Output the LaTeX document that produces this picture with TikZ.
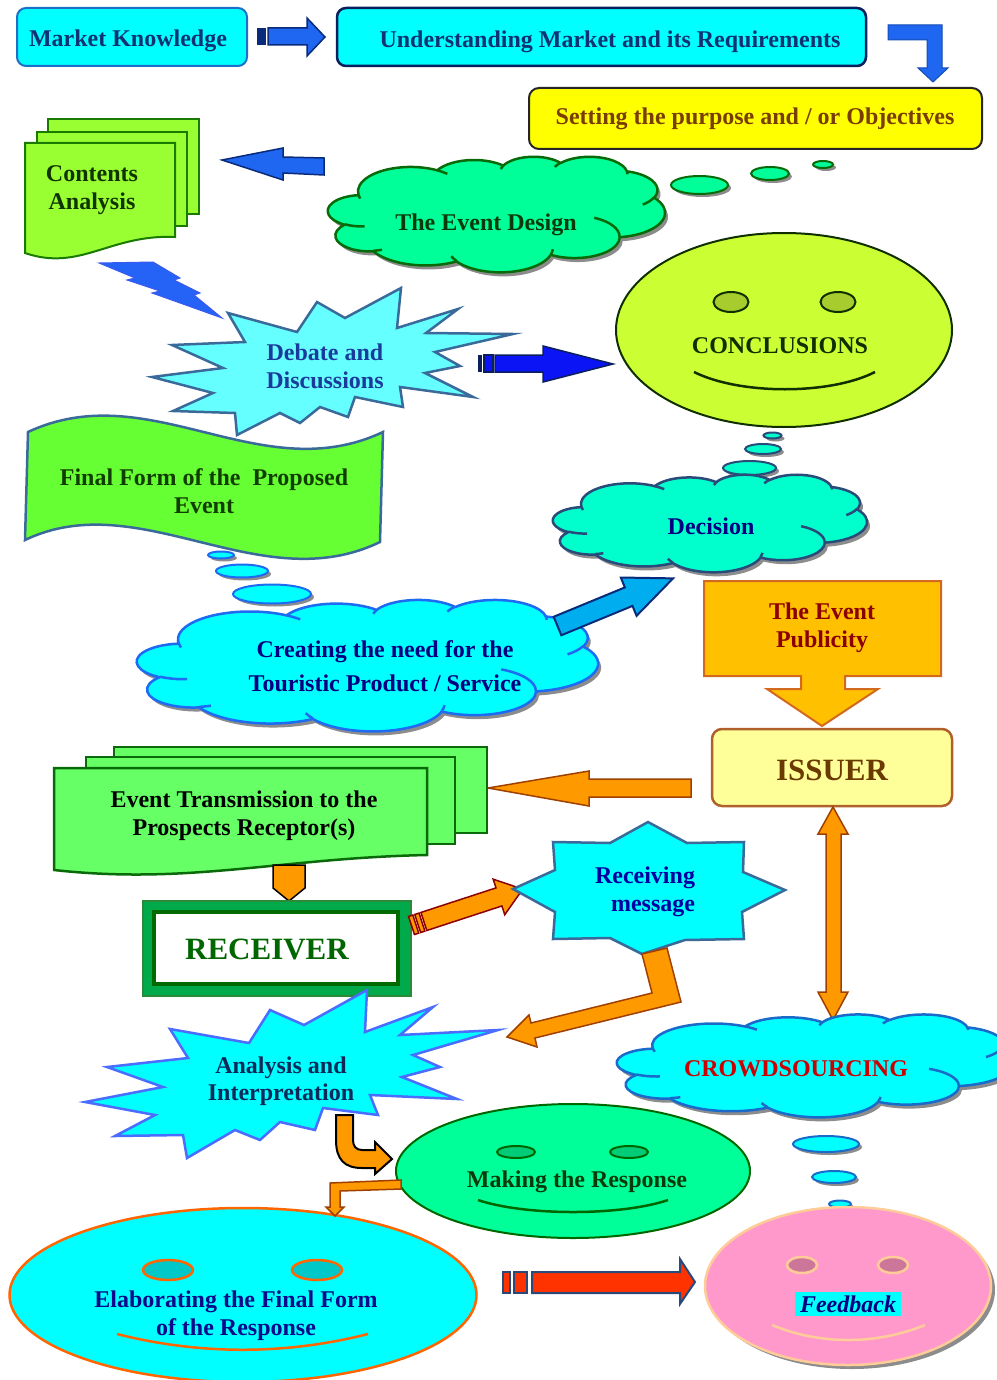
\documentclass[tikz,border=0pt]{standalone}
\usepackage{fontspec}
\setmainfont{Liberation Serif}
\usetikzlibrary{shapes.geometric,shadows}

\definecolor{aqua}{HTML}{00FFFF}
\definecolor{mkline}{HTML}{1E6FC8}
\definecolor{navyline}{HTML}{0A1F5C}
\definecolor{navytext}{HTML}{0F3272}
\definecolor{sunny}{HTML}{FFFF00}
\definecolor{browntext}{HTML}{7A3D00}
\definecolor{leafgreen}{HTML}{99FF33}
\definecolor{leafline}{HTML}{1A7A00}
\definecolor{leaftext}{HTML}{113300}
\definecolor{arrowblue}{HTML}{1F66F0}
\definecolor{arrowline}{HTML}{0A2A7A}
\definecolor{paleaqua}{HTML}{66FFFF}
\definecolor{steel}{HTML}{3A6A9A}
\definecolor{debtext}{HTML}{1A3A9C}
\definecolor{deepblue}{HTML}{0A14F5}
\definecolor{spring}{HTML}{00FF99}
\definecolor{forest}{HTML}{0A6A0A}
\definecolor{forestdark}{HTML}{0A3A0A}
\definecolor{limefill}{HTML}{CCFF33}
\definecolor{limeline}{HTML}{0F2F00}
\definecolor{limeeye}{HTML}{A6CC2E}
\definecolor{aquamarine}{HTML}{00FFCC}
\definecolor{slateline}{HTML}{2A4A7A}
\definecolor{navyblue}{HTML}{000080}
\definecolor{grass}{HTML}{66FF33}
\definecolor{grasstext}{HTML}{123D00}
\definecolor{skyline}{HTML}{1E6AF0}
\definecolor{skyblue}{HTML}{00AEEF}
\definecolor{amber}{HTML}{FFC000}
\definecolor{amberline}{HTML}{D2691E}
\definecolor{darkred}{HTML}{8B0000}
\definecolor{cream}{HTML}{FFFF99}
\definecolor{creamline}{HTML}{B0602A}
\definecolor{umber}{HTML}{6B3A00}
\definecolor{orangefill}{HTML}{FF9900}
\definecolor{orangeline}{HTML}{A04000}
\definecolor{mint}{HTML}{66FF66}
\definecolor{framefill}{HTML}{00AA4A}
\definecolor{frameline}{HTML}{2A8A3A}
\definecolor{framedark}{HTML}{006A00}
\definecolor{rectext}{HTML}{006600}
\definecolor{msgtext}{HTML}{0000A0}
\definecolor{burstline}{HTML}{4A6CFF}
\definecolor{anatext}{HTML}{0A2A5A}
\definecolor{crowdline}{HTML}{1A6ACA}
\definecolor{crowdtext}{HTML}{CC0000}
\definecolor{eyegreen}{HTML}{00CC77}
\definecolor{flame}{HTML}{FF6600}
\definecolor{tealeye}{HTML}{00C8C8}
\definecolor{elabtext}{HTML}{0A0A8A}
\definecolor{pinkfill}{HTML}{FF99CC}
\definecolor{peach}{HTML}{FFCC99}
\definecolor{mauve}{HTML}{CC7799}
\definecolor{scarlet}{HTML}{FF3300}
\definecolor{shadowgray}{HTML}{8C8C8C}
\definecolor{boltblue}{HTML}{2463F5}
\definecolor{boltline}{HTML}{3A5AF0}

% small thought bubble with its shadow: fill, line, x, y, x radius, y radius
\newcommand\thoughtbubble[6]{%
  \fill[shadowgray] ({#3+3},{#4+3}) ellipse [x radius=#5,y radius=#6];
  \draw[fill=#1,draw=#2,line width=2pt] (#3,#4) ellipse [x radius=#5,y radius=#6];}

% elliptic arc from the current point: x radius, y radius, start and sweep
% given as angles of the ray from the centre (converted to ellipse parameters)
\newcommand\ooarc[4]{%
  \pgfmathsetmacro\ooA{atan2((#1)*sin(#3),(#2)*cos(#3))}%
  \pgfmathsetmacro\ooTs{\ooA+360*round(((#3)-(\ooA))/360)}%
  \pgfmathsetmacro\ooB{atan2((#1)*sin((#3)+(#4)),(#2)*cos((#3)+(#4)))}%
  \pgfmathsetmacro\ooTe{\ooB+360*round(((#3)+(#4)-(\ooB))/360)}%
  \pgfpatharc{\ooTs}{\ooTe}{#1pt and #2pt}}

% cloud outline on a 4320 x 4320 frame, y pointing down
\newcommand\cloudoutline{%
  \pgfpathmoveto{\pgfpoint{390pt}{1437pt}}%
  \ooarc{675.3}{919}{-190.4875}{123.7805}%
  \ooarc{533.3}{726.7}{-144.1024}{89.9452}%
  \ooarc{436.5}{594.5}{-145.8079}{99.7230}%
  \ooarc{485.7}{659.5}{-130.9861}{117.2417}%
  \ooarc{533.3}{727.3}{-78.7089}{109.0269}%
  \ooarc{677.5}{922}{-46.2673}{130.2690}%
  \ooarc{578.5}{786.7}{0.6250}{114.0333}%
  \ooarc{675.2}{921.5}{22.4516}{115.1726}%
  \ooarc{772}{1054.3}{66.2426}{75.7110}%
  \ooarc{436}{591.8}{-274.9421}{146.7356}%
  \ooarc{434.5}{594.5}{-246.8285}{152.5189}%
  \pgfpathclose}

% the inner curls of the cloud
\newcommand\cloudcurls{%
  \pgfpathmoveto{\pgfpoint{469.3pt}{2617.7pt}}\ooarc{434.5}{594.5}{86.7420}{26.4295}%
  \pgfpathmoveto{\pgfpoint{692.8pt}{3489.9pt}}\ooarc{436}{591.8}{73.6105}{11.4475}%
  \pgfpathmoveto{\pgfpoint{1647.8pt}{3909pt}}\ooarc{675.2}{921.5}{137.6242}{14.0811}%
  \pgfpathmoveto{\pgfpoint{2882.7pt}{3475.1pt}}\ooarc{675.2}{921.5}{6.4533}{15.9984}%
  \pgfpathmoveto{\pgfpoint{3412.9pt}{2295.4pt}}\ooarc{578.5}{786.7}{-70.2924}{70.9174}%
  \pgfpathmoveto{\pgfpoint{4179.8pt}{1535.4pt}}\ooarc{533.3}{727.3}{30.3180}{27.7515}%
  \pgfpathmoveto{\pgfpoint{3832.4pt}{542.6pt}}\ooarc{485.7}{659.5}{-13.7443}{14.8589}%
  \pgfpathmoveto{\pgfpoint{2907.8pt}{395.2pt}}\ooarc{485.7}{659.5}{-149.1815}{18.1954}%
  \pgfpathmoveto{\pgfpoint{2214.1pt}{472pt}}\ooarc{436.5}{594.5}{-163.4943}{17.6864}%
  \pgfpathmoveto{\pgfpoint{1400pt}{519.2pt}}\ooarc{675.3}{919}{-66.7070}{12.3194}%
  \pgfpathmoveto{\pgfpoint{412.7pt}{1578.9pt}}\ooarc{675.3}{919}{157.6544}{11.8582}}

% cloud with shadow: left, top, width, height of its frame, fill, line
\newcommand\cloudshape[6]{%
  \begin{scope}[shift={({#1+3},{#2+4})},x=1pt,y=1pt,xscale={(#3)/4320},yscale={-(#4)/4320}]
    \pgfsetfillcolor{shadowgray}\cloudoutline\pgfusepath{fill}
  \end{scope}
  \begin{scope}[shift={(#1,#2)},x=1pt,y=1pt,xscale={(#3)/4320},yscale={-(#4)/4320}]
    \pgfsetroundjoin\pgfsetlinewidth{2.5pt}%
    \pgfsetfillcolor{#5}\pgfsetstrokecolor{#6}%
    \cloudoutline\pgfusepath{fill,stroke}%
    \cloudcurls\pgfusepath{stroke}%
  \end{scope}}

\begin{document}
\begin{tikzpicture}[x=1pt,y=-1pt,line join=miter,
  txt/.style={font=\fontsize{24}{28}\selectfont\bfseries,align=center,inner sep=0pt},
  bigtxt/.style={font=\fontsize{31}{36}\selectfont\bfseries,align=center,inner sep=0pt},
  sh/.style={drop shadow={shadow xshift=4pt,shadow yshift=-4pt,fill=shadowgray,opacity=1}},
  blockarrow/.style={line width=1.5pt}]
\useasboundingbox (0,0) rectangle (996,1380);

% ---------- top row ----------
\node[draw=mkline,fill=aqua,line width=2pt,rounded corners=9pt,
      minimum width=230,minimum height=58] (mk) at (132,37) {};
\node[txt,text=navytext] (mklabel) at (128,41) {Market Knowledge};

\fill[arrowline] (257,28) rectangle (266,45);
\draw[blockarrow,fill=arrowblue,draw=arrowline] (268,28) -- (307,28) -- (307,18) -- (325,37)
  -- (307,56) -- (307,45) -- (268,45) -- cycle;

\node[draw=navyline,fill=aqua,line width=2.5pt,rounded corners=9pt,
      minimum width=529,minimum height=58] (umr) at (601.5,37) {};
\node[txt,text=navytext] (umrlabel) at (610,42) {Understanding Market and its Requirements};

\draw[fill=arrowblue,draw=arrowblue!75!black,line width=1pt] (888,25) -- (942,25) -- (942,68)
  -- (948,68) -- (933,82) -- (918,68) -- (927,68) -- (927,40) -- (888,40) -- cycle;

\node[draw=black!85,fill=sunny,line width=2pt,rounded corners=10pt,
      minimum width=453,minimum height=61] (setp) at (755.5,118.5) {};
\node[txt,text=browntext] (setplabel) at (755,119) {Setting the purpose and / or Objectives};

% ---------- contents analysis ----------
\draw[blockarrow,fill=arrowblue,draw=arrowline] (222,160) -- (283,148) -- (283,157) -- (324,158)
  -- (324,175) -- (283,173) -- (283,180) -- cycle;

\draw[fill=leafgreen,draw=leafline,line width=2pt] (48,119) rectangle (199,214);
\draw[fill=leafgreen,draw=leafline,line width=2pt] (37,132) rectangle (187,226);
\draw[fill=leafgreen,draw=leafline,line width=2pt] (25,143) -- (175,143) -- (175,237)
  .. controls (110,234) and (80,272) .. (25,253) -- cycle;
\node[txt,text=leaftext] (contents) at (92,190) {Contents\\Analysis};

\draw[fill=boltblue,draw=boltline,line width=1pt] (99,263) -- (153,262) -- (180,278) -- (174,280)
  -- (200,293) -- (194,295) -- (222,318) -- (152,293) -- (160,291) -- (127,280) -- (135,278) -- cycle;

% ---------- event design ----------
\thoughtbubble{spring}{forest}{823}{164.5}{10}{3.5}
\thoughtbubble{spring}{forest}{770}{173.5}{19}{6.5}
\thoughtbubble{spring}{forest}{699.5}{185}{28.5}{9}
\cloudshape{328}{156.4}{337}{115.6}{spring}{forest}
\coordinate (design) at (496,217);
\node[txt,text=forestdark] (designlabel) at (486,225) {The Event Design};

% ---------- final form banner ----------
\draw[fill=grass,draw=steel,line width=2.5pt] (28,432) .. controls (150,375) and (260,490) .. (383,432)
  -- (380,542) .. controls (260,600) and (140,485) .. (25,540) -- cycle;
\node[txt,text=grasstext] (final) at (204,491) {Final Form of the~ Proposed\\Event};

% ---------- debate ----------
\draw[fill=paleaqua,draw=steel,line width=2.5pt] (228,313) -- (297,332) -- (317,302) -- (345,318)
  -- (401,288) -- (397,328) -- (458,309) -- (426,333) -- (513,334) -- (435,352) -- (460,366)
  -- (425,373) -- (473,397) -- (400,387) -- (403,407) -- (355,397) -- (348,417) -- (320,407)
  -- (300,423) -- (280,413) -- (237,435) -- (235,413) -- (173,411) -- (213,393) -- (152,377)
  -- (223,368) -- (172,345) -- (245,342) -- cycle;
\node[txt,text=debtext] (debate) at (325,366) {Debate and\\Discussions};

\fill[navyline] (478,355) rectangle (482,372);
\draw[blockarrow,fill=deepblue,draw=navyline] (484,355) rectangle (493,372);
\draw[blockarrow,fill=deepblue,draw=navyline] (495,355) -- (543,355) -- (543,346) -- (613,364)
  -- (543,382) -- (543,372) -- (495,372) -- cycle;

% ---------- conclusions ----------
\node[ellipse,minimum width=336,minimum height=194,inner sep=0pt,fill=limefill,draw=limeline,
      line width=2pt] (conc) at (784,330) {};
\draw[fill=limeeye,draw=limeline,line width=2pt] (731,302) ellipse [x radius=17.5,y radius=10];
\draw[fill=limeeye,draw=limeline,line width=2pt] (838,302) ellipse [x radius=17.5,y radius=10];
\draw[limeline,line width=2.5pt] (694,372) .. controls (740,395) and (830,395) .. (875,372);
\node[txt,text=limeline] (conclabel) at (780,346) {CONCLUSIONS};

% ---------- decision ----------
\thoughtbubble{aquamarine}{slateline}{772.5}{435.5}{9}{3}
\thoughtbubble{aquamarine}{slateline}{763}{449}{18}{5}
\thoughtbubble{aquamarine}{slateline}{749.5}{468}{26.5}{7}
\cloudshape{553}{474.4}{314}{97.6}{aquamarine}{slateline}
\coordinate (decision) at (710,526);
\node[txt,text=navyblue] (decisionlabel) at (711,526) {Decision};

% ---------- creating the need ----------
\thoughtbubble{aqua}{skyline}{221}{555}{13}{3.5}
\thoughtbubble{aqua}{skyline}{242}{571}{26}{6.5}
\thoughtbubble{aqua}{skyline}{272}{594}{39}{9.5}
\cloudshape{137}{599.5}{461}{131.5}{aqua}{skyline}
\coordinate (creating) at (367,669);
\node[txt,text=navyblue,font=\fontsize{24}{34}\selectfont\bfseries] (creatinglabel) at (385,666)
  {Creating the need for the\\Touristic Product / Service};

\begin{scope}[shift={(557.5,626)},rotate=22.4]
  \draw[fill=skyblue,draw=arrowline,line width=2pt] (0,-10) -- (77,-10) -- (77,-20.7) -- (125,0)
    -- (77,20.7) -- (77,10) -- (0,10) -- cycle;
\end{scope}

% ---------- publicity and issuer ----------
\draw[fill=amber,draw=amberline,line width=2pt] (704,581) -- (941,581) -- (941,676) -- (845,676)
  -- (845,689) -- (878,689) -- (822,726) -- (767,689) -- (801,689) -- (801,676) -- (704,676) -- cycle;
\node[txt,text=darkred] (publicity) at (822,628) {The Event\\Publicity};

\node[draw=creamline,fill=cream,line width=2.5pt,rounded corners=10pt,
      minimum width=240,minimum height=77] (issuer) at (832,767.5) {};
\node[bigtxt,text=umber] (issuerlabel) at (832,770) {ISSUER};

\draw[blockarrow,fill=orangefill,draw=orangeline] (488,788) -- (589,771) -- (589,779) -- (691,779)
  -- (691,797) -- (589,797) -- (589,806) -- cycle;

\draw[blockarrow,fill=orangefill,draw=orangeline] (833,807) -- (848,834) -- (841,834) -- (841,992)
  -- (848,992) -- (833,1020) -- (818,992) -- (826,992) -- (826,834) -- (818,834) -- cycle;

% ---------- transmission and receiver ----------
\draw[fill=mint,draw=forest,line width=2.5pt] (114,747) rectangle (487,833);
\draw[fill=mint,draw=forest,line width=2.5pt] (86,757) rectangle (455,844);
\draw[fill=mint,draw=forest,line width=2.5pt] (54,768) -- (427,768) -- (427,855)
  .. controls (280,858) and (190,885) .. (54,870) -- cycle;
\node[txt,text=black] (transmission) at (244,816) {Event Transmission to the\\Prospects Receptor(s)};

\draw[fill=orangefill,draw=black,line width=1.5pt] (273,865) -- (305,865) -- (305,888) -- (289,901)
  -- (273,888) -- cycle;

\node[fill=framefill,draw=frameline,line width=1.5pt,minimum width=268,minimum height=95]
  (recframe) at (277,948.5) {};
\node[fill=white,draw=framedark,line width=4pt,minimum width=244,minimum height=72]
  (receiver) at (276,948) {};
\node[bigtxt,text=rectext] (receiverlabel) at (267,949) {RECEIVER};

\begin{scope}[shift={(411.5,925.5)},rotate=18.1]
  \draw[blockarrow,fill=orangefill,draw=darkred] (0,-9.5) rectangle (4.5,9.5);
  \draw[blockarrow,fill=orangefill,draw=darkred] (6.5,-9.5) rectangle (11,9.5);
  \draw[blockarrow,fill=orangefill,draw=darkred] (13,-9.5) -- (92,-9.5) -- (92,-18.7) -- (117,0)
    -- (92,18.7) -- (92,9.5) -- (13,9.5) -- cycle;
\end{scope}

% ---------- receiving message ----------
\draw[fill=aqua,draw=steel,line width=2.5pt] (648,822) -- (687,843) -- (744,842) -- (743,872)
  -- (785,890) -- (742,912) -- (744,939) -- (685,940) -- (642,954) -- (610,938) -- (553,939)
  -- (555,912) -- (513,889) -- (555,870) -- (553,842) -- (610,843) -- cycle;
\node[txt,text=msgtext] (receiving) at (645,892) {Receiving\\\hspace*{16pt}message};

\draw[blockarrow,fill=orangefill,draw=orangeline] (642,954) -- (667,948) -- (681,1002) -- (535,1038)
  -- (537,1047) -- (507,1037) -- (529,1015) -- (531,1023) -- (652,993) -- cycle;

% ---------- analysis ----------
\draw[fill=aqua,draw=burstline,line width=2.5pt] (170,1029) -- (249,1043) -- (270,1010) -- (304,1025)
  -- (367,990) -- (365,1032) -- (433,1007) -- (400,1035) -- (498,1030) -- (413,1055) -- (440,1067)
  -- (402,1077) -- (457,1099) -- (370,1095) -- (378,1115) -- (323,1108) -- (315,1130) -- (280,1122)
  -- (260,1140) -- (235,1130) -- (187,1158) -- (183,1135) -- (115,1136) -- (155,1115) -- (85,1102)
  -- (163,1087) -- (107,1067) -- (188,1058) -- cycle;
\node[txt,text=anatext,font=\fontsize{24}{27}\selectfont\bfseries] (analysis) at (281,1081)
  {Analysis and\\Interpretation};

% ---------- crowdsourcing ----------
\cloudshape{617}{1014.1}{395}{102.9}{aqua}{crowdline}
\coordinate (crowd) at (813,1068);
\node[txt,text=crowdtext] (crowdlabel) at (796,1069) {CROWDSOURCING};

% ---------- making the response ----------
\draw[fill=orangefill,draw=black,line width=2pt] (336,1115) -- (336,1140)
  .. controls (336,1160) and (345,1168) .. (362,1168) -- (375,1168) -- (375,1174) -- (392,1159)
  -- (375,1142) -- (375,1150) -- (362,1150) .. controls (356,1150) and (353,1146) .. (353,1140)
  -- (353,1115) -- cycle;

\node[ellipse,minimum width=354,minimum height=134,inner sep=0pt,fill=spring,draw=rectext,
      line width=2pt] (making) at (573,1171) {};
\draw[fill=eyegreen,draw=rectext,line width=2pt] (516,1152) ellipse [x radius=19,y radius=6];
\draw[fill=eyegreen,draw=rectext,line width=2pt] (629,1152) ellipse [x radius=19,y radius=6];
\draw[rectext,line width=2.5pt] (478,1200) .. controls (525,1216) and (621,1216) .. (668,1200);
\node[txt,text=forestdark] (makinglabel) at (577,1182) {Making the Response};

% ---------- elaborating ----------
\node[ellipse,minimum width=467,minimum height=174,inner sep=0pt,fill=aqua,draw=flame,
      line width=2.5pt] (elab) at (243,1295) {};
\draw[fill=tealeye,draw=flame,line width=2.5pt] (168,1270) ellipse [x radius=25,y radius=10];
\draw[fill=tealeye,draw=flame,line width=2.5pt] (317,1270) ellipse [x radius=25,y radius=10];
\draw[flame,line width=2.5pt] (117,1334) .. controls (200,1355) and (285,1355) .. (368,1334);
\node[txt,text=elabtext] (elablabel) at (236,1316) {Elaborating the Final Form\\of the Response};

\draw[blockarrow,fill=orangefill,draw=orangeline] (330,1183) -- (401,1180) -- (401,1189) -- (340,1191)
  -- (340,1207) -- (344,1207) -- (335,1216) -- (326,1207) -- (330,1207) -- cycle;

% ---------- feedback ----------
\draw[fill=scarlet,draw=slateline,line width=2pt] (503,1272) rectangle (510,1293);
\draw[fill=scarlet,draw=slateline,line width=2pt] (514,1272) rectangle (527,1293);
\draw[fill=scarlet,draw=slateline,line width=2pt] (532,1272) -- (680,1272) -- (680,1259) -- (695,1282)
  -- (680,1304) -- (680,1293) -- (532,1293) -- cycle;

\thoughtbubble{aqua}{crowdline}{826}{1144}{33}{8}
\thoughtbubble{aqua}{crowdline}{834}{1177}{22}{6}
\thoughtbubble{aqua}{crowdline}{840}{1204}{11}{3.5}
\node[ellipse,minimum width=286,minimum height=158,inner sep=0pt,fill=pinkfill,draw=peach,
      line width=2.5pt,sh] (feedback) at (848,1286) {};
\draw[fill=mauve,draw=peach,line width=2.5pt] (802,1265) ellipse [x radius=15,y radius=8];
\draw[fill=mauve,draw=peach,line width=2.5pt] (893,1265) ellipse [x radius=15,y radius=8];
\draw[peach,line width=2.5pt] (772,1325) .. controls (820,1345) and (876,1345) .. (925,1325);
\node[txt,text=navyblue,fill=aqua,inner xsep=5pt,inner ysep=4pt,
      font=\fontsize{24}{28}\selectfont\bfseries\itshape] (feedbacklabel) at (848,1304) {Feedback};
\end{tikzpicture}
\end{document}
